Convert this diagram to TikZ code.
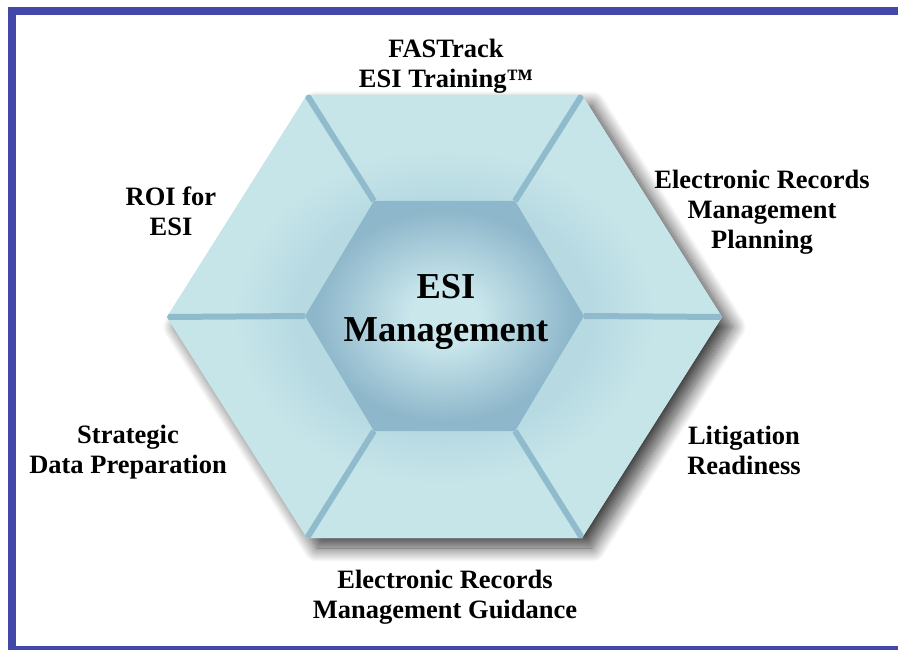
\documentclass[tikz,border=0pt]{standalone}
\usepackage{fontspec}
\setmainfont{Liberation Serif}
\usetikzlibrary{shadows.blur}

\definecolor{frameblue}{RGB}{67,71,168}
\definecolor{ringlight}{RGB}{198,229,233}
\definecolor{ringdark}{RGB}{182,217,226}
\definecolor{spokeblue}{RGB}{143,187,205}
\definecolor{coredark}{RGB}{142,183,203}
\definecolor{corelight}{RGB}{202,231,236}

\pgfdeclareradialshading{ringshade}{\pgfpoint{0bp}{0bp}}{color(0bp)=(ringdark); color(13bp)=(ringdark); color(19bp)=(ringlight); color(50bp)=(ringlight)}
\pgfdeclareradialshading{coreshade}{\pgfpoint{0bp}{0bp}}{color(0bp)=(corelight); color(6bp)=(corelight); color(23bp)=(coredark); color(50bp)=(coredark)}

\begin{document}
\begin{tikzpicture}[
      x=1pt, y=-1pt,
      lbl/.style={font=\fontsize{26.5}{30}\selectfont\bfseries,align=center,inner sep=0pt},
      core/.style={font=\fontsize{36.5}{43}\selectfont\bfseries,align=center,inner sep=0pt},
      spoke/.style={draw=spokeblue,line width=6pt},
    ]
    \useasboundingbox (0,0) rectangle (898,650);

    % Frame
    \draw[frameblue,line width=8pt] (910,11) -- (12,11) -- (12,650) -- (910,650);

    % Outer hexagon
    \coordinate (oR) at (722,317);
    \coordinate (oTR) at (582,95);
    \coordinate (oTL) at (307,95);
    \coordinate (oL) at (167,317);
    \coordinate (oBL) at (307,538);
    \coordinate (oBR) at (582,538);
    \fill[ringlight,blur shadow={shadow xshift=10pt,shadow yshift=-10pt,shadow blur radius=14pt,shadow opacity=75,shadow blur steps=18}]
      (oR) -- (oTR) -- (oTL) -- (oL) -- (oBL) -- (oBR) -- cycle;
    \shade[shading=ringshade] (oR) -- (oTR) -- (oTL) -- (oL) -- (oBL) -- (oBR) -- cycle;

    % Inner hexagon corners
    \coordinate (iR) at (584,316);
    \coordinate (iTR) at (515,201);
    \coordinate (iTL) at (374,201);
    \coordinate (iL) at (305,316);
    \coordinate (iBL) at (374,431);
    \coordinate (iBR) at (515,431);

    % Spokes
    \begin{scope}
      \clip (oR) -- (oTR) -- (oTL) -- (oL) -- (oBL) -- (oBR) -- cycle;
      \draw[spoke] (iR) -- (oR);
      \draw[spoke] (iTR) -- (oTR);
      \draw[spoke] (iTL) -- (oTL);
      \draw[spoke] (iL) -- (oL);
      \draw[spoke] (iBL) -- (oBL);
      \draw[spoke] (iBR) -- (oBR);
    \end{scope}

    % Inner hexagon
    \shade[shading=coreshade] (iR) -- (iTR) -- (iTL) -- (iL) -- (iBL) -- (iBR) -- cycle;
    \node[core] (esi) at (446,312) {ESI\\Management};

    % Labels
    \node[lbl] (fastrack) at (446,66) {FASTrack\\ESI Training™};
    \node[lbl] (planning) at (762,212) {Electronic Records\\Management\\Planning};
    \node[lbl] (litig) at (744,450) {Litigation\\Readiness};
    \node[lbl] (guidance) at (445,597) {Electronic Records\\Management Guidance};
    \node[lbl] (strategic) at (128,452) {Strategic\\Data Preparation};
    \node[lbl] (roi) at (171,211) {ROI for\\ESI};
  \end{tikzpicture}
\end{document}
